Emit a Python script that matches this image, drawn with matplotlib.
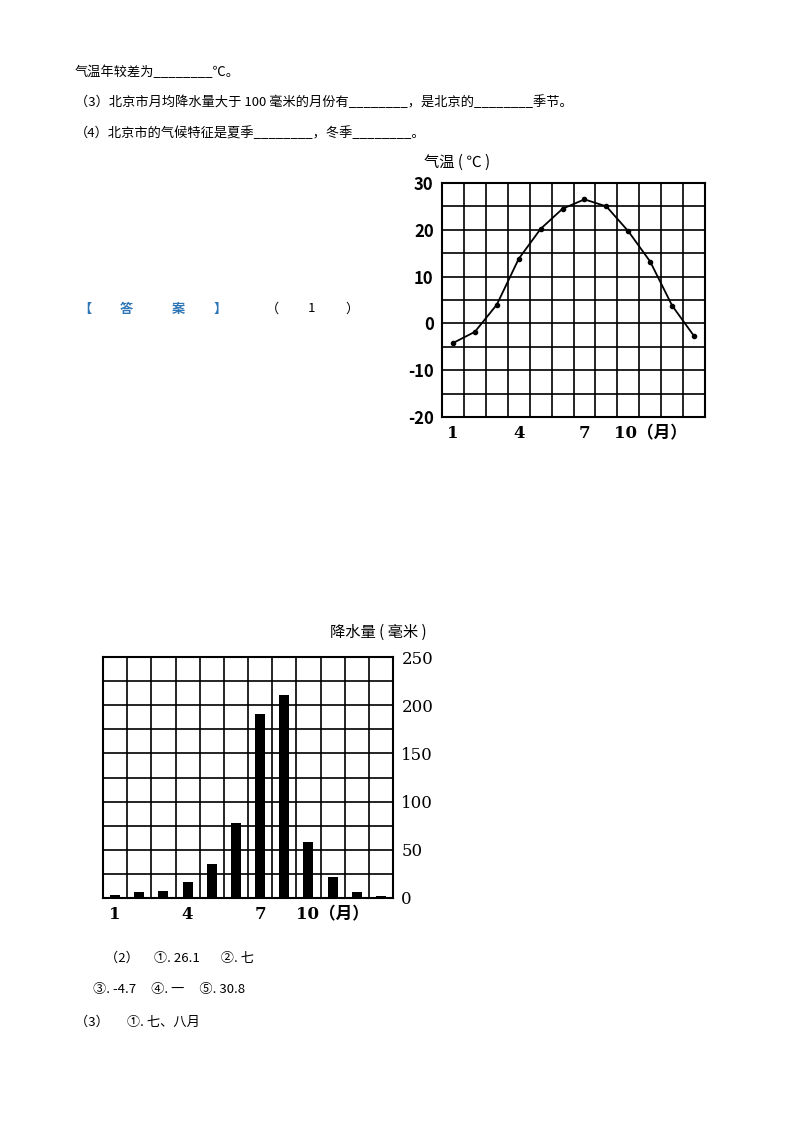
import matplotlib
matplotlib.use("Agg")
import matplotlib.pyplot as plt

plt.rcParams['font.family'] = ['Noto Sans CJK SC', 'DejaVu Sans']

months = list(range(1, 13))
temperature = [-4.2, -1.8, 4.0, 13.8, 20.2, 24.5, 26.5, 25.0, 19.7, 13.2, 3.8, -2.7]
precip = [3, 6, 7, 17, 35, 78, 191, 211, 58, 22, 6, 2]
month_ticks = [1, 4, 7, 10]
month_labels = ['1', '4', '7', '10（月）']
temp_ticks = [30, 20, 10, 0, -10, -20]
precip_ticks = [0, 50, 100, 150, 200, 250]

W, H = 800, 1132
fig = plt.figure(figsize=(W/100, H/100), dpi=100)

def ax_px(x0, y0, x1, y1):
    return fig.add_axes([x0/W, 1-y1/H, (x1-x0)/W, (y1-y0)/H])

def txt(x, y, s, **kw):
    kw.setdefault('fontsize', 9.5)
    fig.text(x/W, 1-y/H, s, va='center', ha='left', **kw)

txt(75, 72, "气温年较差为________℃。")
txt(75, 102, "（3）北京市月均降水量大于 100 毫米的月份有________，是北京的________季节。")
txt(75, 133, "（4）北京市的气候特征是夏季________，冬季________。")
blue = '#2e75b6'
for x, s in zip([78, 120, 172, 214], ['【', '答', '案', '】']):
    txt(x, 309, s, color=blue, fontweight='bold')
for x, s in zip([266, 308, 345], ['（', '1', '）']):
    txt(x, 309, s)
txt(105, 958, "（2）     ①. 26.1       ②. 七")
txt(93, 990, "③. -4.7     ④. 一     ⑤. 30.8")
txt(75, 1022, "（3）      ①. 七、八月")

serif = ['DejaVu Serif', 'Noto Sans CJK SC']

# temperature chart
ax = ax_px(442, 183, 705, 417)
ax.set_xlim(0.5, 12.5)
ax.set_ylim(-20, 30)
for x in range(1, 12):
    ax.axvline(x + 0.5, color='black', lw=1.2)
for y in range(-15, 30, 5):
    ax.axhline(y, color='black', lw=1.2)
ax.plot(months, temperature, color='black', lw=1.3, marker='o', ms=3)
for s in ax.spines.values():
    s.set_linewidth(1.5)
ax.set_xticks(month_ticks)
ax.set_xticklabels(month_labels, fontsize=12, family=serif, fontweight='bold')
ax.set_yticks(temp_ticks)
ax.set_yticklabels([str(t) for t in temp_ticks], fontsize=12, fontweight='bold')
ax.tick_params(length=0, pad=6)
txt(424, 162, "气温 ( ℃ )", fontsize=11)

# precipitation chart
bx = ax_px(103, 657, 393, 898)
bx.set_xlim(0.5, 12.5)
bx.set_ylim(0, 250)
for x in range(1, 12):
    bx.axvline(x + 0.5, color='black', lw=1.2, zorder=0)
for y in range(25, 250, 25):
    bx.axhline(y, color='black', lw=1.2, zorder=0)
bx.bar(months, precip, width=0.42, color='black', zorder=3)
for s in bx.spines.values():
    s.set_linewidth(1.5)
bx.set_xticks(month_ticks)
bx.set_xticklabels(month_labels, fontsize=12, family=serif, fontweight='bold')
bx.yaxis.tick_right()
bx.set_yticks(precip_ticks)
bx.set_yticklabels([str(t) for t in precip_ticks], fontsize=12, family=serif)
bx.tick_params(length=0, pad=6)
txt(330, 632, "降水量 ( 毫米 )", fontsize=11)

fig.savefig("out.png", dpi=100, facecolor='white')
